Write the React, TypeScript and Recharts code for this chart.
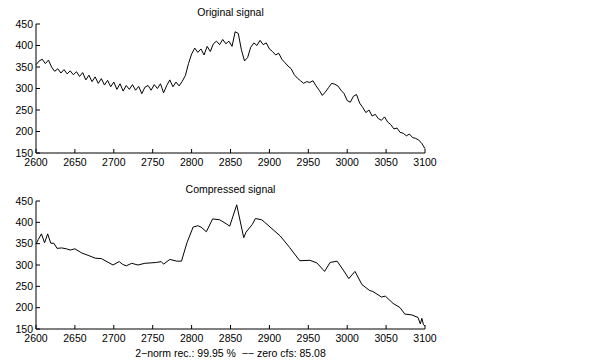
import React from 'react'
import { LineChart, Line, XAxis, YAxis } from 'recharts'

const xTicks = [2600, 2650, 2700, 2750, 2800, 2850, 2900, 2950, 3000, 3050, 3100]
const yTicks = [150, 200, 250, 300, 350, 400, 450]

// original signal, read every 4 samples
const origX = [
  2600, 2604, 2608, 2612, 2616, 2620, 2624, 2628, 2632, 2636, 2640, 2644, 2648, 2652, 2656, 2660,
  2664, 2668, 2672, 2676, 2680, 2684, 2688, 2692, 2696, 2700, 2704, 2708, 2712, 2716, 2720, 2724,
  2728, 2732, 2736, 2740, 2744, 2748, 2752, 2756, 2760, 2764, 2768, 2772, 2776, 2780, 2784, 2788,
  2792, 2796, 2800, 2804, 2808, 2812, 2816, 2820, 2824, 2828, 2832, 2836, 2840, 2844, 2848, 2852,
  2856, 2860, 2864, 2868, 2872, 2876, 2880, 2884, 2888, 2892, 2896, 2900, 2904, 2908, 2912, 2916,
  2920, 2924, 2928, 2932, 2936, 2940, 2944, 2948, 2952, 2956, 2960, 2964, 2968, 2972, 2976, 2980,
  2984, 2988, 2992, 2996, 3000, 3004, 3008, 3012, 3016, 3020, 3024, 3028, 3032, 3036, 3040, 3044,
  3048, 3052, 3056, 3060, 3064, 3068, 3072, 3076, 3080, 3084, 3088, 3092, 3096, 3100,
]
const origY = [
  355, 364, 368, 358, 366, 350, 340, 346, 336, 344, 334, 341, 332, 339, 328, 337,
  320, 331, 316, 327, 312, 323, 308, 319, 304, 315, 298, 311, 294, 307, 298, 309,
  296, 305, 288, 303, 307, 296, 309, 300, 311, 290, 307, 320, 304, 315, 306, 317,
  330, 358, 380, 394, 384, 392, 378, 398, 386, 404, 410, 402, 414, 404, 410, 398,
  432, 428, 390, 364, 372, 396, 406, 400, 412, 402, 406, 392, 386, 378, 382, 368,
  360, 352, 346, 332, 324, 318, 312, 316, 314, 318, 306, 296, 284, 292, 302, 312,
  310, 306, 296, 288, 272, 268, 282, 286, 266, 256, 244, 250, 236, 240, 230, 226,
  234, 222, 216, 206, 208, 198, 196, 190, 194, 186, 184, 180, 172, 160,
]

// compressed signal, breakpoints of the piecewise curve
const compX = [
  2600, 2603, 2607, 2611, 2615, 2619, 2623, 2627, 2633, 2639, 2644, 2650, 2659, 2668, 2676, 2684,
  2699, 2707, 2711, 2716, 2723, 2731, 2740, 2748, 2755, 2761, 2764, 2772, 2781, 2787, 2794, 2802,
  2808, 2812, 2819, 2827, 2836, 2845, 2849, 2858, 2867, 2870, 2878, 2882, 2890, 2894, 2914, 2926,
  2939, 2952, 2961, 2971, 2978, 2987, 2995, 3002, 3010, 3019, 3029, 3033, 3044, 3049, 3059, 3068,
  3074, 3083, 3091, 3094, 3096, 3098, 3100,
]
const compY = [
  349, 360, 373, 352, 373, 351, 351, 339, 340, 338, 335, 338, 328, 322, 316, 315,
  300, 308, 302, 298, 304, 300, 304, 305, 306, 308, 302, 313, 309, 309, 352, 389,
  392, 389, 378, 408, 406, 396, 391, 441, 364, 377, 395, 409, 406, 400, 368, 341,
  310, 311, 305, 285, 306, 309, 288, 268, 285, 254, 240, 238, 225, 227, 210, 200,
  185, 183, 177, 162, 175, 160, 157,
]

const origData = origX.map((x, i) => ({ x, y: origY[i] }))
const compData = compX.map((x, i) => ({ x, y: compY[i] }))

const font = { fontFamily: '"Liberation Sans", Arial, sans-serif', fontSize: 10.5, fill: '#000' }
const noTick = () => <g />

function Panel({ data, top, plotTop, plotBottom, gap }: { data: { x: number; y: number }[]; top: number; plotTop: number; plotBottom: number; gap: number }) {
  const h = 180
  return (
    <div style={{ position: 'absolute', left: 0, top }}>
      <LineChart width={600} height={h} data={data} margin={{ top: plotTop, right: 175, bottom: 0, left: 0 }}>
        <XAxis
          dataKey='x'
          type='number'
          domain={[2600, 3100]}
          ticks={xTicks}
          interval={0}
          height={h - plotBottom}
          tickSize={-4}
          tickMargin={gap}
          tick={font}
          axisLine={{ stroke: '#000' }}
          tickLine={{ stroke: '#000' }}
        />
        <XAxis
          xAxisId='top'
          orientation='top'
          dataKey='x'
          type='number'
          domain={[2600, 3100]}
          ticks={xTicks}
          interval={0}
          height={0}
          tickSize={-4}
          tick={noTick}
          axisLine={{ stroke: '#000' }}
          tickLine={{ stroke: '#000' }}
        />
        <YAxis
          type='number'
          domain={[150, 450]}
          ticks={yTicks}
          interval={0}
          width={36}
          tickSize={-4}
          tickMargin={7}
          tick={font}
          axisLine={{ stroke: '#000' }}
          tickLine={{ stroke: '#000' }}
        />
        <YAxis
          yAxisId='right'
          orientation='right'
          type='number'
          domain={[150, 450]}
          ticks={yTicks}
          interval={0}
          width={0}
          tickSize={-4}
          tick={noTick}
          axisLine={{ stroke: '#000' }}
          tickLine={{ stroke: '#000' }}
        />
        <Line dataKey='y' stroke='#000' strokeWidth={1} dot={false} isAnimationActive={false} />
      </LineChart>
    </div>
  )
}

const label: React.CSSProperties = {
  position: 'absolute',
  left: 36,
  width: 389,
  textAlign: 'center',
  fontFamily: '"Liberation Sans", Arial, sans-serif',
  fontSize: 10.5,
  lineHeight: '12px',
  color: '#000',
  whiteSpace: 'pre',
}

export default function App() {
  return (
    <div style={{ position: 'absolute', left: 0, top: 0, width: 600, height: 360, background: '#fff' }}>
      <Panel data={origData} top={0} plotTop={24} plotBottom={153} gap={10} />
      <Panel data={compData} top={180} plotTop={21} plotBottom={149} gap={10} />
      <div style={{ ...label, top: 6 }}>Original signal</div>
      <div style={{ ...label, top: 183 }}>Compressed signal</div>
      <div style={{ ...label, top: 347 }}>{'2\u2212norm rec.: 99.95 %  \u2212\u2212 zero cfs: 85.08'}</div>
    </div>
  )
}
